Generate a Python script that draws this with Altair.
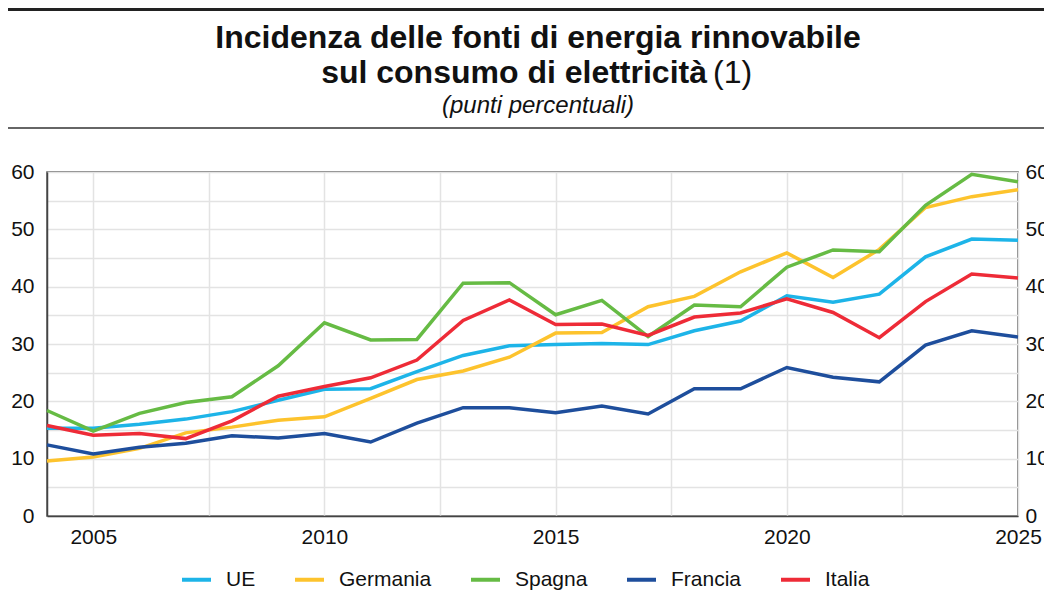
import altair as alt
import pandas as pd

# ---- data ----
years = list(range(2004, 2026))
ue       = [15.3, 15.3, 16.0, 16.9, 18.2, 20.2, 22.1, 22.2, 25.2, 28.0, 29.7, 29.9, 30.1, 29.9, 32.3, 34.0, 38.4, 37.3, 38.7, 45.2, 48.3, 48.1]
germania = [9.6, 10.3, 11.8, 14.5, 15.5, 16.7, 17.3, 20.5, 23.8, 25.3, 27.7, 31.9, 32.0, 36.5, 38.3, 42.6, 45.9, 41.6, 46.5, 53.8, 55.7, 56.9]
spagna   = [18.4, 14.8, 17.9, 19.8, 20.8, 26.2, 33.7, 30.7, 30.8, 40.6, 40.7, 35.1, 37.6, 31.3, 36.8, 36.5, 43.4, 46.4, 46.1, 54.2, 59.6, 58.3]
francia  = [12.4, 10.8, 12.0, 12.7, 14.0, 13.6, 14.4, 12.9, 16.2, 18.9, 18.9, 18.0, 19.2, 17.8, 22.2, 22.2, 25.9, 24.2, 23.4, 29.8, 32.3, 31.2]
italia   = [15.8, 14.1, 14.4, 13.5, 16.6, 20.9, 22.6, 24.1, 27.2, 34.1, 37.7, 33.4, 33.5, 31.5, 34.7, 35.4, 37.9, 35.5, 31.1, 37.4, 42.2, 41.5]

series = ["UE", "Germania", "Spagna", "Francia", "Italia"]
colors = ["#1db4e8", "#fdc32d", "#66bb44", "#1e4e9c", "#ee2b37"]

x_ticks = [2005, 2007.5, 2010, 2012.5, 2015, 2017.5, 2020, 2022.5, 2025]
y_ticks = list(range(0, 61, 5))

title_1 = "Incidenza delle fonti di energia rinnovabile"
title_2 = "sul consumo di elettricità"
title_2b = "(1)"
subtitle = "(punti percentuali)"

FONT = "Liberation Sans"

rows = []
for name, vals in zip(series, [ue, germania, spagna, francia, italia]):
    for yr, v in zip(years, vals):
        rows.append({"anno": yr, "serie": name, "valore": v})
df = pd.DataFrame(rows)

x_enc = alt.X(
    "anno:Q",
    scale=alt.Scale(domain=[2004, 2025], nice=False, zero=False),
    axis=alt.Axis(
        values=x_ticks,
        labelExpr="datum.value % 5 == 0 ? format(datum.value, 'd') : ''",
        title=None, ticks=False, grid=True, gridColor="#e3e3e3", gridWidth=1.5,
        domainColor="#444", domainWidth=1.5, labelFlush=False, labelOverlap=False,
        labelFont=FONT, labelFontSize=21, labelColor="#111", labelPadding=10,
    ),
)

y_scale = alt.Scale(domain=[0, 60], nice=False, zero=True)

lines = alt.Chart(df).mark_line(strokeWidth=3.5).encode(
    x=x_enc,
    y=alt.Y(
        "valore:Q", scale=y_scale,
        axis=alt.Axis(
            values=y_ticks,
            labelExpr="datum.value % 10 == 0 ? datum.label : ''",
            title=None, ticks=False, grid=True, gridColor="#e3e3e3", gridWidth=1.5,
            domainColor="#444", domainWidth=1.5, labelFlush=False, labelOverlap=False,
            labelFont=FONT, labelFontSize=21, labelColor="#111", labelPadding=13,
            orient="left",
        ),
    ),
    color=alt.Color(
        "serie:N",
        scale=alt.Scale(domain=series, range=colors),
        legend=alt.Legend(
            orient="none", legendX=133, legendY=391, direction="horizontal", columns=5,
            title=None, symbolType="stroke", symbolStrokeWidth=4, symbolSize=841,
            labelFont=FONT, labelFontSize=21, labelColor="#111", labelOffset=13,
            columnPadding=31,
        ),
    ),
    detail="serie:N",
)

right_axis = alt.Chart(df).mark_line(strokeOpacity=0).encode(
    x=alt.X("anno:Q"),
    y=alt.Y(
        "valore:Q", scale=y_scale,
        axis=alt.Axis(
            values=y_ticks,
            labelExpr="datum.value % 10 == 0 ? datum.label : ''",
            title=None, ticks=False, grid=False, domain=False,
            labelFlush=False, labelOverlap=False,
            labelFont=FONT, labelFontSize=21, labelColor="#111", labelPadding=7,
            orient="right",
        ),
    ),
    detail="serie:N",
)

def text_layer(txt, x, y, size, weight="normal", style="normal", align="center"):
    return alt.Chart(pd.DataFrame({"t": [txt]})).mark_text(
        font=FONT, fontSize=size, fontWeight=weight, fontStyle=style,
        align=align, baseline="middle", color="#111",
    ).encode(text="t:N", x=alt.value(x), y=alt.value(y))

def rule_layer(y, width, color):
    return alt.Chart(pd.DataFrame({"r": [0]})).mark_rule(
        color=color, strokeWidth=width
    ).encode(x=alt.value(-39), x2=alt.value(1010), y=alt.value(y))

chart = alt.layer(
    lines,
    right_axis,
    rule_layer(-162.5, 3, "#222"),
    rule_layer(-44, 2, "#666"),
    text_layer(title_1, 491, -134, 32, weight="bold"),
    text_layer(title_2, 660, -99, 32, weight="bold", align="right"),
    text_layer(title_2b, 666, -99, 32, align="left"),
    text_layer(subtitle, 491, -66, 24, style="italic"),
).resolve_axis(y="independent").properties(
    width=971,
    height=344,
    autosize=alt.AutoSizeParams(type="none"),
    padding={"left": 39, "top": 164, "right": 26, "bottom": 76},
).configure_view(stroke="#555", strokeWidth=1.5)

chart.save("out.html", embed_options={"renderer": "svg", "actions": False})
